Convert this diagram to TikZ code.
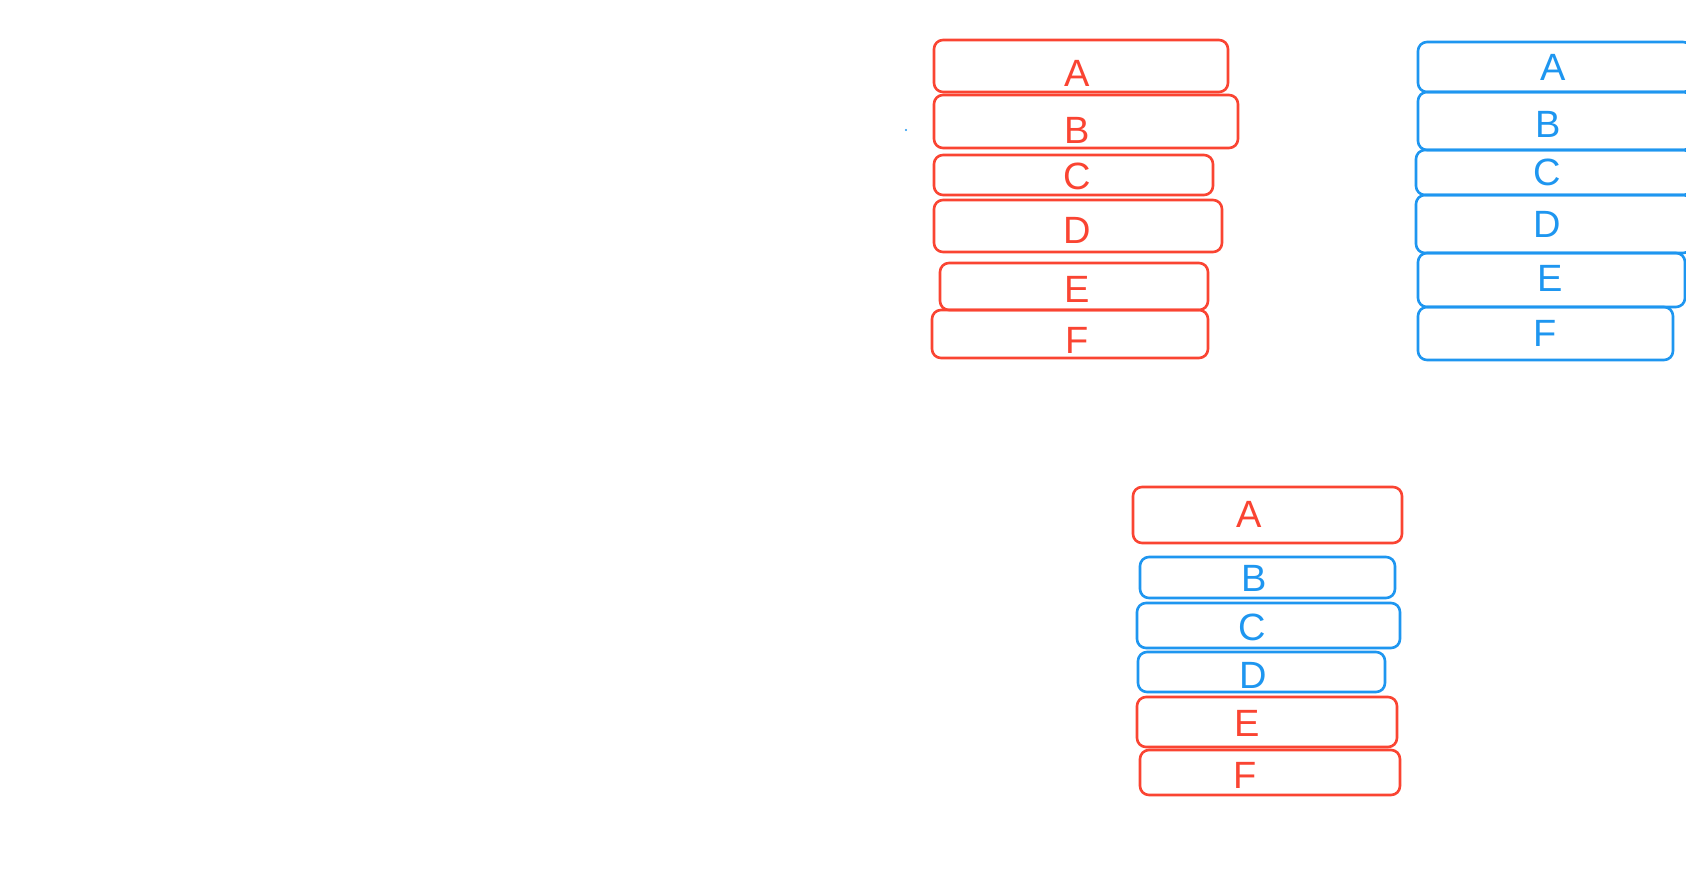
\documentclass[tikz,border=0pt]{standalone}
\usepackage{fontspec}
\setmainfont{Liberation Sans}
\definecolor{penred}{RGB}{250,68,50}
\definecolor{penblue}{RGB}{30,150,240}
\tikzset{
  box/.style={draw, line width=2.6pt, rounded corners=9pt, inner sep=0pt, line join=round},
  rbox/.style={box, draw=penred},
  bbox/.style={box, draw=penblue},
  lbl/.style={inner sep=0pt, font=\fontsize{38}{40}\selectfont},
  rlbl/.style={lbl, text=penred},
  blbl/.style={lbl, text=penblue},
}
\begin{document}
\begin{tikzpicture}[x=1pt,y=-1pt]
\useasboundingbox (0,0) rectangle (1686,881);
\clip (0,0) rectangle (1686,881);
\fill[white] (0,0) rectangle (1686,881);
% red stack
\node[rbox, minimum width=294pt, minimum height=52pt] (rA) at (1081,66) {};
\node[rbox, minimum width=304pt, minimum height=53pt] (rB) at (1086,121.5) {};
\node[rbox, minimum width=279pt, minimum height=40pt] (rC) at (1073.5,175) {};
\node[rbox, minimum width=288pt, minimum height=52pt] (rD) at (1078,226) {};
\node[rbox, minimum width=268pt, minimum height=47pt] (rE) at (1074,286.5) {};
\node[rbox, minimum width=276pt, minimum height=48pt] (rF) at (1070,334) {};
\node[rlbl] (rAt) at (1077,73) {A};
\node[rlbl] (rBt) at (1077,130) {B};
\node[rlbl] (rCt) at (1077,176) {C};
\node[rlbl] (rDt) at (1077,230) {D};
\node[rlbl] (rEt) at (1077,289) {E};
\node[rlbl] (rFt) at (1077,340) {F};
% blue stack
\node[bbox, minimum width=274pt, minimum height=50pt] (bA) at (1555,67) {};
\node[bbox, minimum width=274pt, minimum height=58pt] (bB) at (1555,121) {};
\node[bbox, minimum width=276pt, minimum height=45pt] (bC) at (1554,172.5) {};
\node[bbox, minimum width=276pt, minimum height=58pt] (bD) at (1554,224) {};
\node[bbox, minimum width=267pt, minimum height=54pt] (bE) at (1551.5,280) {};
\node[bbox, minimum width=255pt, minimum height=53pt] (bF) at (1545.5,333.5) {};
\node[blbl] (bAt) at (1553,67) {A};
\node[blbl] (bBt) at (1548,124) {B};
\node[blbl] (bCt) at (1547,172) {C};
\node[blbl] (bDt) at (1547,224) {D};
\node[blbl] (bEt) at (1550,278) {E};
\node[blbl] (bFt) at (1545,333) {F};
% mixed stack
\node[rbox, minimum width=269pt, minimum height=56pt] (mA) at (1267.5,515) {};
\node[bbox, minimum width=255pt, minimum height=41pt] (mB) at (1267.5,577.5) {};
\node[bbox, minimum width=263pt, minimum height=45pt] (mC) at (1268.5,625.5) {};
\node[bbox, minimum width=247pt, minimum height=40pt] (mD) at (1261.5,672) {};
\node[rbox, minimum width=260pt, minimum height=50pt] (mE) at (1267,722) {};
\node[rbox, minimum width=260pt, minimum height=45pt] (mF) at (1270,772.5) {};
\node[rlbl] (mAt) at (1249,514) {A};
\node[blbl] (mBt) at (1254,578) {B};
\node[blbl] (mCt) at (1252,627) {C};
\node[blbl] (mDt) at (1253,675) {D};
\node[rlbl] (mEt) at (1247,723) {E};
\node[rlbl] (mFt) at (1245,775) {F};
% stray dot
\fill[penblue] (906,130) circle (1.2pt);
\end{tikzpicture}
\end{document}
